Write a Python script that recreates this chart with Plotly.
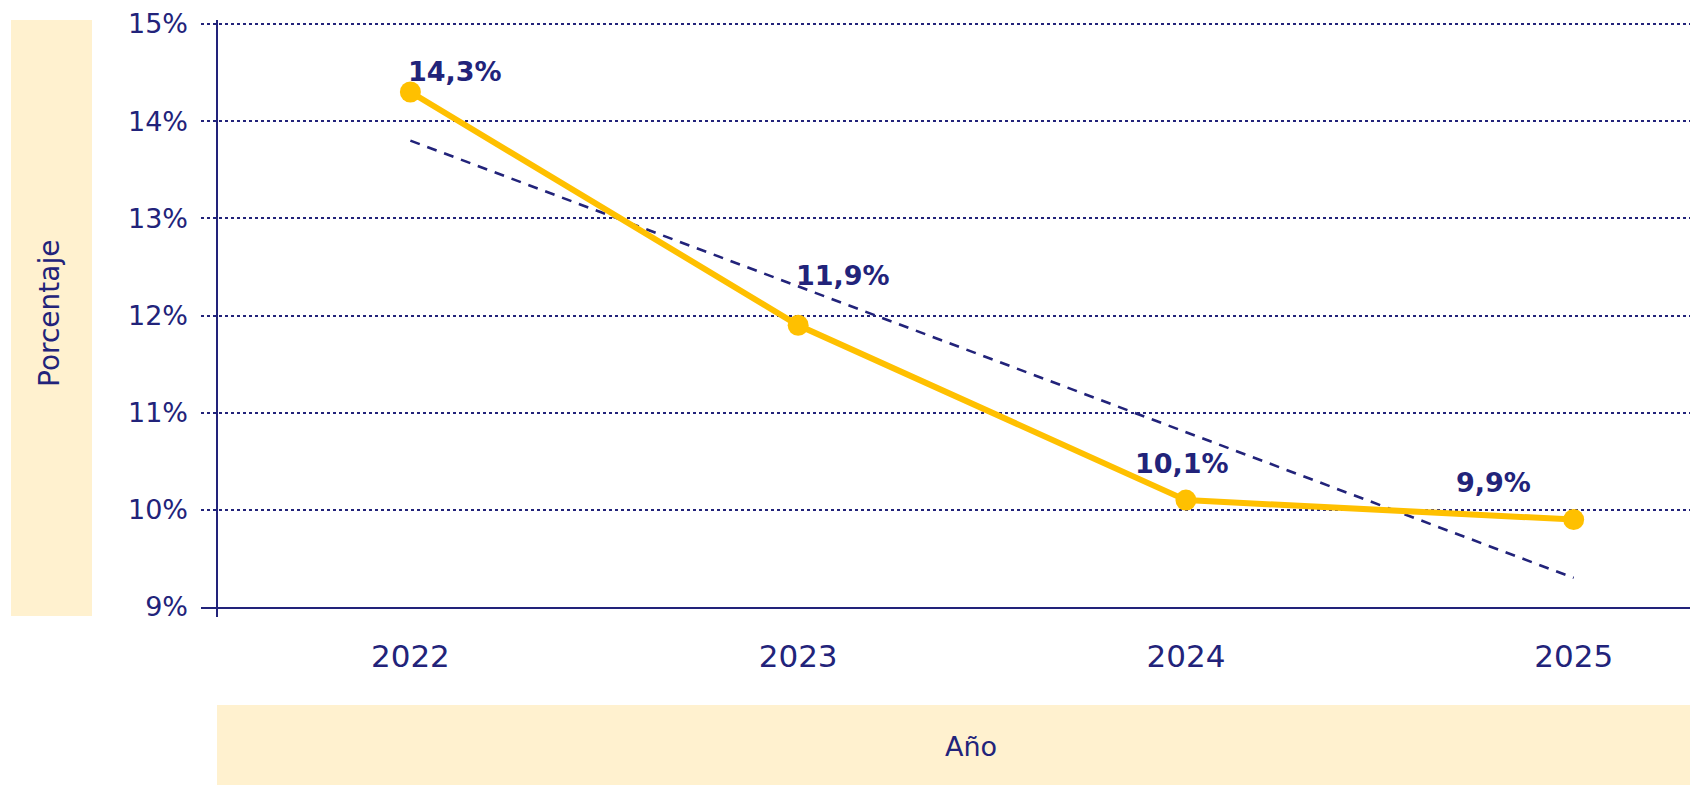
import numpy as np
import plotly.graph_objects as go

# ---- data ----
years = [2022, 2023, 2024, 2025]
values = [14.3, 11.9, 10.1, 9.9]
labels = ["14,3%", "11,9%", "10,1%", "9,9%"]
y_ticks = [9, 10, 11, 12, 13, 14, 15]
y_tick_text = ["9%", "10%", "11%", "12%", "13%", "14%", "15%"]
x_title = "Año"
y_title = "Porcentaje"

# ---- style ----
NAVY = "#22237A"
YELLOW = "#FFC000"
TAN = "#FFF1CF"
FONT = "DejaVu Sans"
label_shift = [(45, 21), (45, 50), (-4, 37), (-80, 37)]

# linear trendline (least squares fit of the series)
xi = np.arange(len(years))
slope, intercept = np.polyfit(xi, values, 1)
trend = [float(intercept + slope * i) for i in xi]

fig = go.Figure()
fig.add_trace(go.Scatter(
    x=years, y=trend, mode="lines",
    line=dict(color=NAVY, width=2.6, dash="10px,8px"),
    hoverinfo="skip", showlegend=False,
))
fig.add_trace(go.Scatter(
    x=years, y=values, mode="lines+markers",
    line=dict(color=YELLOW, width=6),
    marker=dict(color=YELLOW, size=21),
    showlegend=False,
))

for yr, v, lab, (dx, dy) in zip(years, values, labels, label_shift):
    fig.add_annotation(
        x=yr, y=v, text=lab, showarrow=False,
        xanchor="center", yanchor="middle", xshift=dx, yshift=dy,
        font=dict(family=FONT, size=27, color=NAVY, weight="bold"),
    )

L, R, T, B = 201, 0, 24, 178
W, H = 1690, 785
pw = W - L - R
ph = H - T - B

def px_x(p):
    return (p - L) / pw

def px_y(p):
    return (H - B - p) / ph

shapes = [
    # left title band
    dict(type="rect", xref="paper", yref="paper",
         x0=px_x(11), x1=px_x(92), y0=px_y(616), y1=px_y(20),
         fillcolor=TAN, line=dict(width=0), layer="below"),
    # bottom title band
    dict(type="rect", xref="paper", yref="paper",
         x0=px_x(217), x1=px_x(1695), y0=px_y(790), y1=px_y(705),
         fillcolor=TAN, line=dict(width=0), layer="below"),
    # top gridline (at the range edge)
    dict(type="line", xref="paper", yref="paper",
         x0=0, x1=1, y0=px_y(24), y1=px_y(24),
         line=dict(color=NAVY, width=2, dash="3px,3px"), layer="above"),
    # vertical axis line
    dict(type="line", xref="paper", yref="paper",
         x0=px_x(217), x1=px_x(217), y0=px_y(617), y1=px_y(20),
         line=dict(color=NAVY, width=2)),
]

fig.add_annotation(
    xref="paper", yref="paper", x=px_x(49), y=px_y(314),
    text=y_title, textangle=-90, showarrow=False,
    xanchor="center", yanchor="middle",
    font=dict(family=FONT, size=28, color=NAVY),
)
fig.add_annotation(
    xref="paper", yref="paper", x=px_x(971), y=px_y(746),
    text=x_title, showarrow=False,
    xanchor="center", yanchor="middle",
    font=dict(family=FONT, size=27, color=NAVY),
)

fig.update_layout(
    width=W, height=H,
    margin=dict(l=L, r=R, t=T, b=B, pad=0),
    paper_bgcolor="white", plot_bgcolor="white",
    shapes=shapes,
    xaxis=dict(
        range=[years[0] - 0.54, years[-1] + 0.30],
        tickvals=years, ticktext=[str(y) for y in years],
        showgrid=False, zeroline=False,
        showline=True, linecolor=NAVY, linewidth=2,
        ticks="", ticklabelstandoff=21,
        tickfont=dict(family=FONT, size=31, color=NAVY),
    ),
    yaxis=dict(
        range=[9, 15], tickvals=y_ticks, ticktext=y_tick_text,
        showgrid=True, gridcolor=NAVY, gridwidth=1.5, griddash="3px,3px",
        zeroline=False, showline=False,
        ticks="", ticklabelstandoff=12,
        tickfont=dict(family=FONT, size=27, color=NAVY),
    ),
)

fig.write_html("out.html", config={"displayModeBar": False},
               post_script="document.body.style.margin='0';")
